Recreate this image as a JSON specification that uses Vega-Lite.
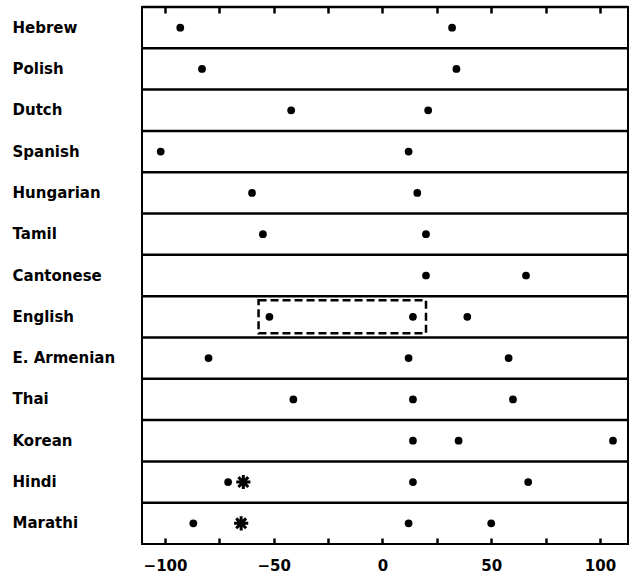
{
  "$schema": "https://vega.github.io/schema/vega-lite/v6.json",
  "width": 486,
  "height": 537,
  "autosize": {"type": "none"},
  "padding": {"left": 142, "top": 7, "right": 3, "bottom": 34},
  "background": "white",
  "config": {
    "view": {"stroke": "black", "strokeWidth": 2},
    "font": "DejaVu Sans"
  },
  "datasets": {
    "pts": [
      {"lang": "Hebrew", "vot": -93, "kind": "dot"},
      {"lang": "Hebrew", "vot": 32, "kind": "dot"},
      {"lang": "Polish", "vot": -83, "kind": "dot"},
      {"lang": "Polish", "vot": 34, "kind": "dot"},
      {"lang": "Dutch", "vot": -42, "kind": "dot"},
      {"lang": "Dutch", "vot": 21, "kind": "dot"},
      {"lang": "Spanish", "vot": -102, "kind": "dot"},
      {"lang": "Spanish", "vot": 12, "kind": "dot"},
      {"lang": "Hungarian", "vot": -60, "kind": "dot"},
      {"lang": "Hungarian", "vot": 16, "kind": "dot"},
      {"lang": "Tamil", "vot": -55, "kind": "dot"},
      {"lang": "Tamil", "vot": 20, "kind": "dot"},
      {"lang": "Cantonese", "vot": 20, "kind": "dot"},
      {"lang": "Cantonese", "vot": 66, "kind": "dot"},
      {"lang": "English", "vot": -52, "kind": "dot"},
      {"lang": "English", "vot": 14, "kind": "dot"},
      {"lang": "English", "vot": 39, "kind": "dot"},
      {"lang": "E. Armenian", "vot": -80, "kind": "dot"},
      {"lang": "E. Armenian", "vot": 12, "kind": "dot"},
      {"lang": "E. Armenian", "vot": 58, "kind": "dot"},
      {"lang": "Thai", "vot": -41, "kind": "dot"},
      {"lang": "Thai", "vot": 14, "kind": "dot"},
      {"lang": "Thai", "vot": 60, "kind": "dot"},
      {"lang": "Korean", "vot": 14, "kind": "dot"},
      {"lang": "Korean", "vot": 35, "kind": "dot"},
      {"lang": "Korean", "vot": 106, "kind": "dot"},
      {"lang": "Hindi", "vot": -71, "kind": "dot"},
      {"lang": "Hindi", "vot": -64, "kind": "star"},
      {"lang": "Hindi", "vot": 14, "kind": "dot"},
      {"lang": "Hindi", "vot": 67, "kind": "dot"},
      {"lang": "Marathi", "vot": -87, "kind": "dot"},
      {"lang": "Marathi", "vot": -65, "kind": "star"},
      {"lang": "Marathi", "vot": 12, "kind": "dot"},
      {"lang": "Marathi", "vot": 50, "kind": "dot"}
    ],
    "langs": [
      {"lang": "Hebrew"}, {"lang": "Polish"}, {"lang": "Dutch"}, {"lang": "Spanish"},
      {"lang": "Hungarian"}, {"lang": "Tamil"}, {"lang": "Cantonese"}, {"lang": "English"},
      {"lang": "E. Armenian"}, {"lang": "Thai"}, {"lang": "Korean"}, {"lang": "Hindi"}, {"lang": "Marathi"}
    ],
    "box": [{"lang": "English", "lo": -57, "hi": 20}]
  },
  "resolve": {"axis": {"x": "independent"}},
  "layer": [
    {
      "data": {"name": "langs"},
      "mark": {"type": "rule", "stroke": "black", "strokeWidth": 2.5},
      "encoding": {
        "y": {"field": "lang", "type": "nominal", "bandPosition": 0,
              "sort": ["Hebrew","Polish","Dutch","Spanish","Hungarian","Tamil","Cantonese","English","E. Armenian","Thai","Korean","Hindi","Marathi"],
              "scale": {"paddingInner": 0, "paddingOuter": 0},
              "axis": {"title": null, "ticks": false, "domain": false, "grid": false,
                       "labelAlign": "left", "labelPadding": 130, "labelFontSize": 15,
                       "labelFontWeight": "bold", "labelColor": "black", "labelFont": "DejaVu Sans"}}
      }
    },
    {
      "data": {"name": "box"},
      "mark": {"type": "rect", "fill": null, "stroke": "black", "strokeWidth": 2.5, "strokeDash": [8, 4], "height": {"band": 0.8}},
      "encoding": {
        "y": {"field": "lang", "type": "nominal",
              "sort": ["Hebrew","Polish","Dutch","Spanish","Hungarian","Tamil","Cantonese","English","E. Armenian","Thai","Korean","Hindi","Marathi"]},
        "x": {"field": "lo", "type": "quantitative",
              "scale": {"domain": [-110.6, 112.9], "nice": false, "zero": false},
              "axis": {"orient": "bottom", "title": null, "values": [-100,-75,-50,-25,0,25,50,75,100],
                       "tickSize": -6, "tickWidth": 2.5, "tickColor": "black", "domain": false, "grid": false,
                       "labelExpr": "datum.value % 50 === 0 ? datum.label : ''",
                       "labelFontSize": 15, "labelFontWeight": "bold", "labelColor": "black",
                       "labelPadding": 20, "labelFont": "DejaVu Sans"}},
        "x2": {"field": "hi"}
      }
    },
    {
      "data": {"name": "pts"},
      "transform": [{"filter": "datum.kind === 'dot'"}],
      "mark": {"type": "point", "shape": "circle", "filled": true, "color": "black", "size": 60, "opacity": 1},
      "encoding": {
        "y": {"field": "lang", "type": "nominal",
              "sort": ["Hebrew","Polish","Dutch","Spanish","Hungarian","Tamil","Cantonese","English","E. Armenian","Thai","Korean","Hindi","Marathi"]},
        "x": {"field": "vot", "type": "quantitative",
              "scale": {"domain": [-110.6, 112.9], "nice": false, "zero": false},
              "axis": {"orient": "top", "title": null, "values": [-100,-75,-50,-25,0,25,50,75,100],
                       "tickSize": -6, "tickWidth": 2.5, "tickColor": "black", "domain": false, "grid": false,
                       "labels": false}}
      }
    },
    {
      "data": {"name": "pts"},
      "transform": [{"filter": "datum.kind === 'star'"}],
      "mark": {"type": "point", "shape": "M-1,0L1,0M0,-1L0,1M-0.7,-0.7L0.7,0.7M-0.7,0.7L0.7,-0.7", "filled": false, "fill": null, "stroke": "black", "strokeWidth": 3, "size": 200, "opacity": 1},
      "encoding": {
        "y": {"field": "lang", "type": "nominal",
              "sort": ["Hebrew","Polish","Dutch","Spanish","Hungarian","Tamil","Cantonese","English","E. Armenian","Thai","Korean","Hindi","Marathi"]},
        "x": {"field": "vot", "type": "quantitative", "axis": null}
      }
    }
  ]
}
